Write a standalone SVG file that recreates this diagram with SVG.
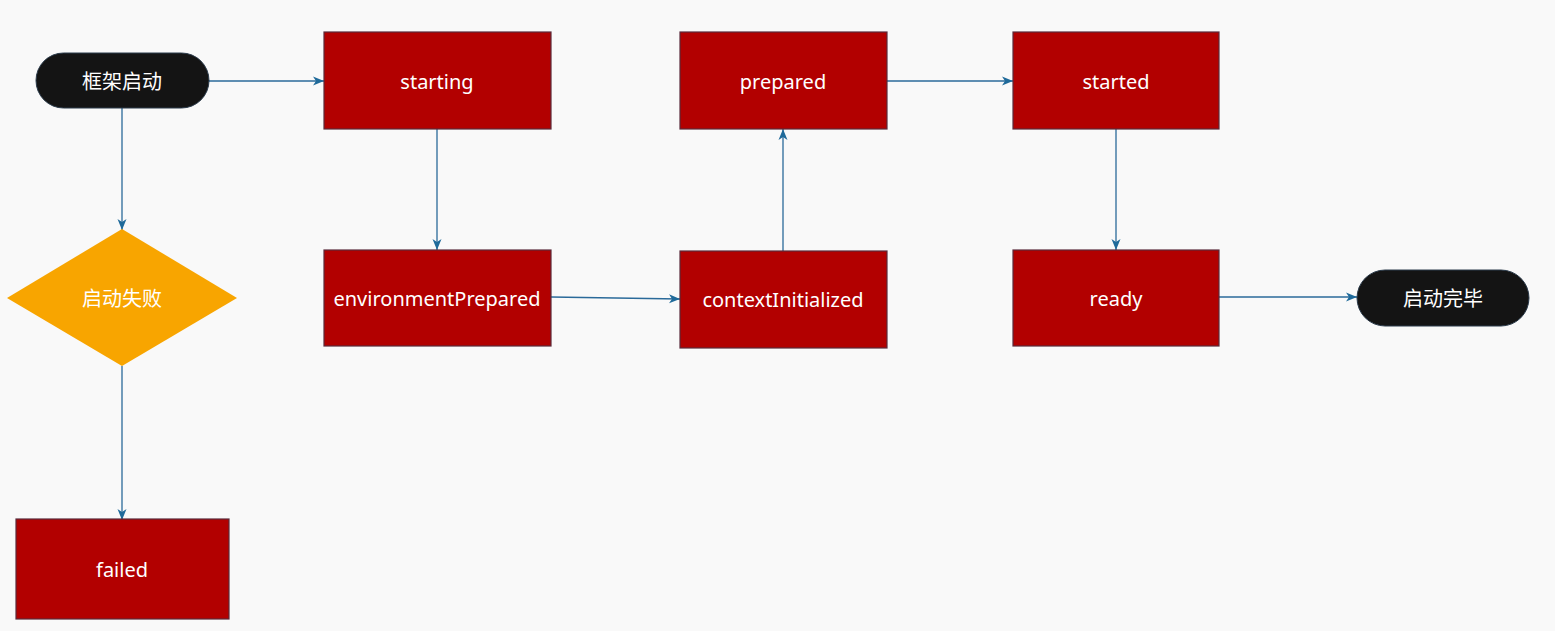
<svg xmlns="http://www.w3.org/2000/svg" width="1555" height="631" viewBox="0 0 1555 631">
<style>
.bg{fill:#f9f9f9}
.box{fill:#b20000;stroke:#5a2a3a;stroke-width:1.2}
.pill{fill:#141414;stroke:#2a3a4a;stroke-width:1}
.dia{fill:#f8a500}
.t{fill:#ffffff;font-family:"Noto Sans","Open Sans","Noto Sans CJK SC",sans-serif;font-size:20px;text-anchor:middle;dominant-baseline:central}
.c{fill:none;stroke:#2a6a9a;stroke-width:1.3}
</style>
<defs>
<marker id="ah" markerWidth="12" markerHeight="12" refX="11" refY="6" orient="auto" markerUnits="userSpaceOnUse">
<path d="M0,1.5 L11,6 L0,10.5 L3,6 Z" fill="#1f6a9a"/>
</marker>
</defs>
<rect class="bg" x="0" y="0" width="1555" height="631"/>
<g id="connectors">
<path class="c" d="M209,81 L324,81" marker-end="url(#ah)"/>
<path class="c" d="M122,108 L122,230" marker-end="url(#ah)"/>
<path class="c" d="M122,366 L122,520" marker-end="url(#ah)"/>
<path class="c" d="M437,129 L437,250" marker-end="url(#ah)"/>
<path class="c" d="M551,297 L680,299" marker-end="url(#ah)"/>
<path class="c" d="M783,251 L783,129" marker-end="url(#ah)"/>
<path class="c" d="M887,81 L1013,81" marker-end="url(#ah)"/>
<path class="c" d="M1116,129 L1116,250" marker-end="url(#ah)"/>
<path class="c" d="M1219,297 L1357,297" marker-end="url(#ah)"/>
</g>
<g id="start">
<rect class="pill" x="36" y="53" width="173" height="55" rx="27.5"/>
<text class="t" x="122" y="81">框架启动</text>
</g>
<g id="starting">
<rect class="box" x="324" y="32" width="227" height="97"/>
<text class="t" x="437" y="81">starting</text>
</g>
<g id="environmentPrepared">
<rect class="box" x="324" y="250" width="227" height="96"/>
<text class="t" x="437" y="298">environmentPrepared</text>
</g>
<g id="contextInitialized">
<rect class="box" x="680" y="251" width="207" height="97"/>
<text class="t" x="783" y="299">contextInitialized</text>
</g>
<g id="prepared">
<rect class="box" x="680" y="32" width="207" height="97"/>
<text class="t" x="783" y="81">prepared</text>
</g>
<g id="started">
<rect class="box" x="1013" y="32" width="206" height="97"/>
<text class="t" x="1116" y="81">started</text>
</g>
<g id="ready">
<rect class="box" x="1013" y="250" width="206" height="96"/>
<text class="t" x="1116" y="298">ready</text>
</g>
<g id="end">
<rect class="pill" x="1357" y="270" width="172" height="56" rx="28"/>
<text class="t" x="1443" y="298">启动完毕</text>
</g>
<g id="fail-decision">
<polygon class="dia" points="122,229 237,298 122,366 7,298"/>
<text class="t" x="122" y="298">启动失败</text>
</g>
<g id="failed">
<rect class="box" x="16" y="519" width="213" height="100"/>
<text class="t" x="122" y="569">failed</text>
</g>
</svg>
